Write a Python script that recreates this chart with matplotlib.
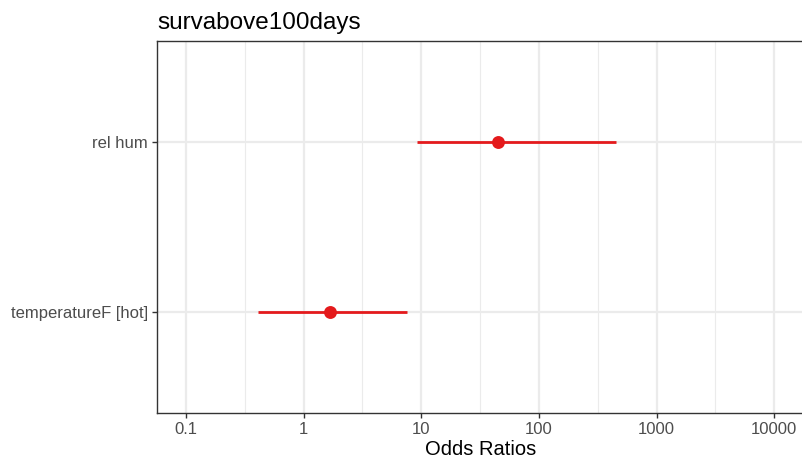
import matplotlib
matplotlib.use("Agg")
import matplotlib.pyplot as plt
import numpy as np

terms = ["temperatureF [hot]", "rel hum"]
estimates = [1.67, 44.7]
ci_low = [0.41, 9.2]
ci_high = [7.55, 450.0]
xticks = [0.1, 1, 10, 100, 1000, 10000]
xticklabels = ["0.1", "1", "10", "100", "1000", "10000"]
title = "survabove100days"
xlabel = "Odds Ratios"

plt.rcParams['font.family'] = ['Liberation Sans', 'DejaVu Sans']

W, H = 802, 461
fig = plt.figure(figsize=(W / 100, H / 100), dpi=100)
left, right, top, bottom = 157, 804, 41, 413
ax = fig.add_axes([left / W, 1 - bottom / H, (right - left) / W, (bottom - top) / H])

red = "#E41A1C"
ypos = np.arange(1, len(terms) + 1)
for y, e, lo, hi in zip(ypos, estimates, ci_low, ci_high):
    ax.plot([lo, hi], [y, y], color=red, lw=2.0, solid_capstyle='butt', zorder=3)
    ax.plot([e], [y], 'o', color=red, ms=9.3, mec='none', zorder=4)

ax.set_xscale('log')
ax.set_xticks(xticks)
ax.set_xticklabels(xticklabels)
minor = [10 ** (k + 0.5) for k in range(-1, 4)]
ax.set_xticks(minor, minor=True)
ax.xaxis.set_minor_formatter(matplotlib.ticker.NullFormatter())
ax.set_yticks(ypos)
ax.set_yticklabels(terms)
ax.set_xlim(0.0567, 17890)
ax.set_ylim(0.4, 2.6)

ax.grid(True, which='major', color='#EBEBEB', lw=1.6, zorder=0)
ax.grid(True, which='minor', axis='x', color='#EBEBEB', lw=0.8, zorder=0)
ax.set_axisbelow(True)
ax.tick_params(axis='both', which='major', length=3.5, width=1.0, color='#333333',
               labelcolor='#4D4D4D', labelsize=12, pad=3)
ax.tick_params(axis='x', which='minor', length=0)
for s in ax.spines.values():
    s.set_color('#333333')
    s.set_linewidth(1.0)

ax.set_xlabel(xlabel, fontsize=14.5, color='black', labelpad=2)
ax.set_title(title, fontsize=17.5, loc='left', pad=9, color='black')

fig.savefig("out.png", dpi=100)
